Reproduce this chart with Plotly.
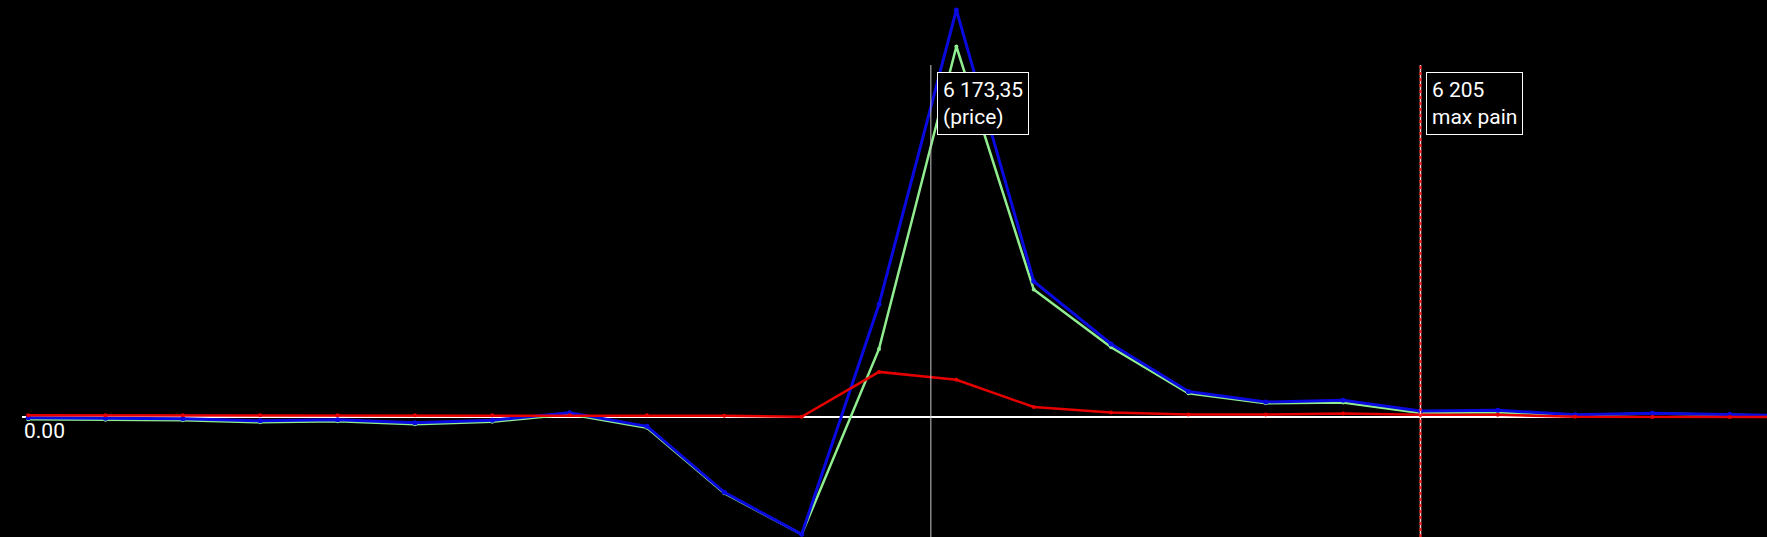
import plotly.graph_objects as go

# Strikes (x axis)
strikes = [6115, 6120, 6125, 6130, 6135, 6140, 6145, 6150, 6155, 6160, 6165, 6170,
           6175, 6180, 6185, 6190, 6195, 6200, 6205, 6210, 6215, 6220, 6225, 6230]

# Series values (arbitrary units)
calls_values = [-2, -2.5, -3, -5, -4, -7, -4.5, 3, -10.5, -76, -117, 68.4,
                370.8, 127.7, 70, 24, 14, 14.7, 4.3, 5, 2.0, 3.7, 2.7, 1.3]
puts_values = [2.0, 2.0, 2.0, 2.0, 2.0, 2.0, 2.0, 2.0, 2.0, 1.5, 0.5, 45.4,
               37.5, 10.3, 4.7, 2.7, 2.7, 3.7, 2.5, 2.5, 0.5, 0.3, 0.3, 0.2]
total_values = [-0.5, -1, -1.5, -3.5, -2.5, -5.5, -3, 4.5, -9, -75, -117, 113,
                407.4, 136, 73.3, 25.7, 15.3, 17, 6.3, 7, 2.5, 4, 3, 1.5]

price = 6173.35
price_label = "6 173,35<br>(price)"
max_pain = 6205
max_pain_label = "6 205<br>max pain"
zero_label = "0.00"

fig = go.Figure()
fig.add_trace(go.Scatter(x=strikes, y=calls_values, mode="lines+markers",
                         line=dict(color="#90ee90", width=2.5),
                         marker=dict(size=4, color="#90ee90"), name="calls"))
fig.add_trace(go.Scatter(x=strikes, y=total_values, mode="lines+markers",
                         line=dict(color="#0a0ae0", width=3),
                         marker=dict(size=5, color="#0a0ae0"), name="total"))
fig.add_trace(go.Scatter(x=strikes, y=puts_values, mode="lines+markers",
                         line=dict(color="#e60000", width=2.5),
                         marker=dict(size=4, color="#e60000"), name="puts"))

top_frac = 1 - 65 / 537
# price line
fig.add_shape(type="line", xref="x", yref="paper", x0=price, x1=price,
              y0=0, y1=top_frac, line=dict(color="#c8c8c8", width=1), layer="above")
# max pain line
fig.add_shape(type="line", xref="x", yref="paper", x0=max_pain, x1=max_pain,
              y0=0, y1=top_frac, line=dict(color="#ffc8c8", width=1.5), layer="above")
fig.add_shape(type="line", xref="x", yref="paper", x0=max_pain, x1=max_pain,
              y0=0, y1=top_frac, line=dict(color="#ff2020", width=2, dash="dot"), layer="above")

box_y = 1 - 71.5 / 537
for xv, txt in [(price, price_label), (max_pain, max_pain_label)]:
    fig.add_annotation(x=xv, xref="x", y=box_y, yref="paper", text=txt,
                       xanchor="left", yanchor="top", xshift=6, align="left",
                       showarrow=False, bgcolor="black", bordercolor="white",
                       borderwidth=1, borderpad=5,
                       font=dict(family="Roboto", size=21, color="white"))

fig.add_annotation(x=0, xref="paper", y=0, yref="y", text=zero_label,
                   xanchor="left", yanchor="top", showarrow=False, yshift=0,
                   font=dict(family="Roboto", size=21, color="white"))

fig.update_layout(
    width=1767, height=537, autosize=False,
    paper_bgcolor="black", plot_bgcolor="black",
    margin=dict(l=22, r=0, t=0, b=0),
    showlegend=False,
    xaxis=dict(range=[6114.6, 6227.4], showgrid=False, zeroline=False,
               showticklabels=False, showline=False, ticks=""),
    yaxis=dict(range=[-119.7, 417.3], showgrid=False, zeroline=True,
               zerolinecolor="white", zerolinewidth=1.5,
               showticklabels=False, showline=False, ticks=""),
    font=dict(family="Roboto", color="white"),
)

fig.write_html("out.html",
               config={"displayModeBar": False},
               post_script="document.body.style.margin='0px';"
                           "document.body.style.background='black';"
                           "document.body.style.overflow='hidden';")
